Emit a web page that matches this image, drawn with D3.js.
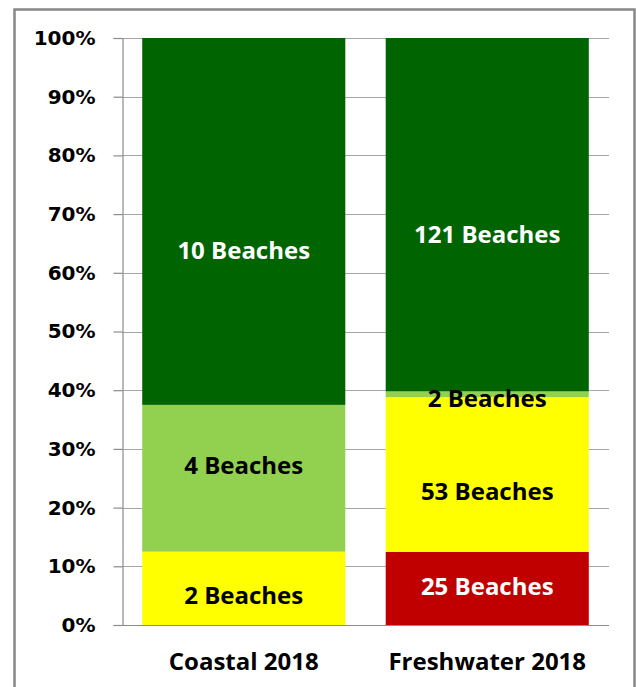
<!DOCTYPE html>
<html>
<head>
<meta charset="utf-8">
<script src="https://cdn.jsdelivr.net/npm/d3@7"></script>
<style>
  body { margin: 0; background: #fff; }
  svg text { font-weight: bold; }
</style>
</head>
<body>
<div id="chart-div"></div>
<script>
// data
const categories = ['Coastal 2018', 'Freshwater 2018'];
const levels = ['red', 'yellow', 'lightgreen', 'darkgreen'];
const redCounts = [0, 25];
const yellowCounts = [2, 53];
const lightGreenCounts = [4, 2];
const darkGreenCounts = [10, 121];
const yTicks = [0, 0.1, 0.2, 0.3, 0.4, 0.5, 0.6, 0.7, 0.8, 0.9, 1];

const beachCounts = {
  red: redCounts,
  yellow: yellowCounts,
  lightgreen: lightGreenCounts,
  darkgreen: darkGreenCounts
};

const colors = { red: '#c00000', yellow: '#ffff00', lightgreen: '#92d050', darkgreen: '#006400' };
const labelColors = { red: '#fff', yellow: '#000', lightgreen: '#000', darkgreen: '#fff' };
// labels in the original were nudged by hand, px shift from segment centre
const labelShift = {
  red: [0, -2],
  yellow: [7, 17],
  lightgreen: [-13, 4],
  darkgreen: [29, 20]
};

const w = 637;
const h = 687;
const plot = { left: 122, right: 609, top: 38, bottom: 625 };

const svg = d3.select('#chart-div')
              .append('svg')
              .attr('width', w)
              .attr('height', h);

// outer frame
svg.append('rect')
   .attr('x', 14.5).attr('y', 9.5)
   .attr('width', 620).attr('height', 700)
   .attr('fill', 'none')
   .attr('stroke', '#878787')
   .attr('stroke-width', 2.5);

const xScale = d3.scaleBand()
                 .domain(categories)
                 .range([plot.left, plot.right])
                 .paddingInner(0.166)
                 .paddingOuter(0.083);

const yScale = d3.scaleLinear()
                 .domain([0, 1])
                 .range([plot.bottom, plot.top]);

// gridlines
svg.append('g')
   .selectAll('line')
   .data(yTicks.slice(1))
   .enter()
   .append('line')
   .attr('x1', plot.left).attr('x2', plot.right)
   .attr('y1', d => Math.round(yScale(d)) + 0.5)
   .attr('y2', d => Math.round(yScale(d)) + 0.5)
   .attr('stroke', '#a6a6a6')
   .attr('stroke-width', 1.2);

// stack rows per category
const rows = categories.map((c, i) => {
  const row = { category: c, index: i };
  levels.forEach(l => row[l] = beachCounts[l][i]);
  return row;
});

const stacked = d3.stack()
                  .keys(levels)
                  .offset(d3.stackOffsetExpand)(rows);

const layers = svg.append('g')
   .selectAll('g')
   .data(stacked)
   .enter()
   .append('g')
   .attr('fill', d => colors[d.key]);

layers.selectAll('rect')
   .data(d => d.map(p => ({ key: d.key, p })))
   .enter()
   .append('rect')
   .attr('x', d => xScale(d.p.data.category))
   .attr('y', d => yScale(d.p[1]))
   .attr('width', xScale.bandwidth())
   .attr('height', d => yScale(d.p[0]) - yScale(d.p[1]));

// data labels
const labels = [];
stacked.forEach(layer => {
  layer.forEach(p => {
    const n = p.data[layer.key];
    if (n > 0) labels.push({ key: layer.key, p, n });
  });
});

svg.append('g')
   .selectAll('text')
   .data(labels)
   .enter()
   .append('text')
   .attr('x', d => xScale(d.p.data.category) + xScale.bandwidth() / 2)
   .attr('y', d => yScale((d.p[0] + d.p[1]) / 2) + labelShift[d.key][d.p.data.index])
   .attr('dy', '0.36em')
   .attr('text-anchor', 'middle')
   .attr('font-family', 'Open Sans, sans-serif')
   .attr('font-size', 24)
   .attr('fill', d => labelColors[d.key])
   .text(d => d.n + ' Beaches');

// y axis
const yAxis = d3.axisLeft(yScale)
                .tickValues(yTicks)
                .tickFormat(d3.format('.0%'))
                .tickSize(9)
                .tickPadding(18);

const gy = svg.append('g')
   .attr('transform', 'translate(' + (plot.left + 0.5) + ',0)')
   .call(yAxis);
gy.select('.domain').attr('stroke', '#8c8c8c').attr('stroke-width', 1.2);
gy.selectAll('.tick line').attr('stroke', '#8c8c8c').attr('stroke-width', 1.2);
gy.selectAll('text')
  .attr('font-family', 'DejaVu Sans, sans-serif')
  .attr('font-size', 20)
  .attr('fill', '#000');

// x axis line and labels
svg.append('line')
   .attr('x1', plot.left).attr('x2', plot.right)
   .attr('y1', plot.bottom + 0.5).attr('y2', plot.bottom + 0.5)
   .attr('stroke', '#8c8c8c').attr('stroke-width', 1.2);

svg.append('g')
   .selectAll('text')
   .data(categories)
   .enter()
   .append('text')
   .attr('x', d => xScale(d) + xScale.bandwidth() / 2)
   .attr('y', 670)
   .attr('text-anchor', 'middle')
   .attr('font-family', 'Open Sans, sans-serif')
   .attr('font-size', 24)
   .attr('fill', '#000')
   .text(d => d);
</script>
</body>
</html>
